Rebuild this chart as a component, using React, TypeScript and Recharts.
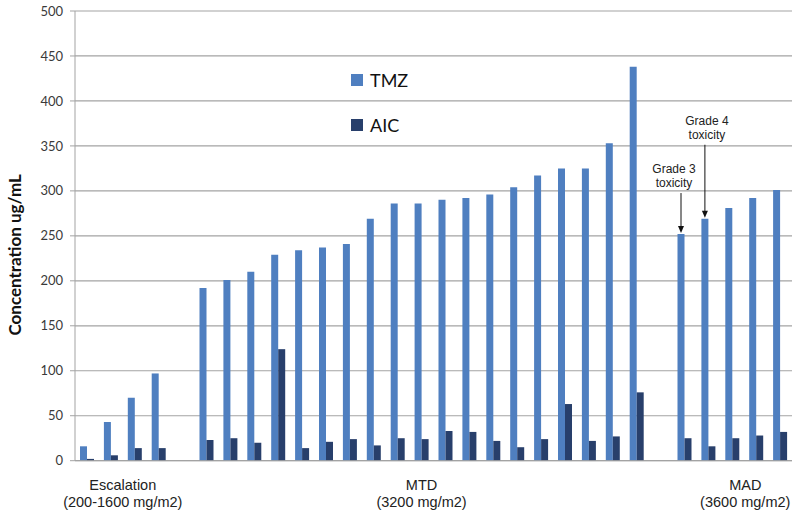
import React from 'react';
import { BarChart, Bar, XAxis, YAxis, CartesianGrid, LabelList } from 'recharts';

// values (ug/mL)
const escalationTMZ = [16, 43, 70, 97];
const escalationAIC = [2, 6, 14, 14];
const mtdTMZ = [192, 201, 210, 229, 234, 237, 241, 269, 286, 286, 290, 292, 296, 304, 317, 325, 325, 353, 438];
const mtdAIC = [23, 25, 20, 124, 14, 21, 24, 17, 25, 24, 33, 32, 22, 15, 24, 63, 22, 27, 76];
const madTMZ = [252, 269, 281, 292, 301];
const madAIC = [25, 16, 25, 28, 32];
const madNotes = ['Grade 3|toxicity', 'Grade 4|toxicity', '', '', ''];
const yTicks = [0, 50, 100, 150, 200, 250, 300, 350, 400, 450, 500];

const series = [
  { key: 'tmz', name: 'TMZ', color: '#4F7FC0' },
  { key: 'aic', name: 'AIC', color: '#283F6B' },
];

const cohorts = [
  { name: 'Escalation', dose: '(200-1600 mg/m2)', tmz: escalationTMZ, aic: escalationAIC, notes: [] as string[] },
  { name: 'MTD', dose: '(3200 mg/m2)', tmz: mtdTMZ, aic: mtdAIC, notes: [] as string[] },
  { name: 'MAD', dose: '(3600 mg/m2)', tmz: madTMZ, aic: madAIC, notes: madNotes },
];

type Row = {
  id: string;
  tmz: number | null;
  aic: number | null;
  note?: string;
  group?: string;
  dose?: string;
  even?: boolean;
};

const rows: Row[] = [];
cohorts.forEach((c, gi) => {
  if (gi > 0) rows.push({ id: `gap${gi}`, tmz: null, aic: null });
  const mid = Math.floor((c.tmz.length - 1) / 2);
  c.tmz.forEach((v, i) => {
    rows.push({
      id: `${c.name}-${i}`,
      tmz: v,
      aic: c.aic[i],
      note: c.notes[i] || undefined,
      group: i === mid ? c.name : undefined,
      dose: i === mid ? c.dose : undefined,
      even: c.tmz.length % 2 === 0,
    });
  });
});

const W = 800;
const H = 515;
const Y_AXIS_W = 75;
const RIGHT = 8;
const SLOT = (W - Y_AXIS_W - RIGHT) / rows.length;
const GRID = '#A3A3A3';
const LABEL_NUDGE: Record<string, number> = { MAD: 13 };

const GroupTick = (props: any) => {
  const { x, y, index } = props;
  const row = rows[index];
  if (!row || !row.group) return null;
  const cx = x + (row.even ? SLOT / 2 : 0) + (LABEL_NUDGE[row.group] || 0);
  return (
    <g>
      <text x={cx} y={y + 29} textAnchor="middle" fontSize={14.5} fill="#222" fontFamily="'Liberation Sans', Arial, sans-serif">
        {row.group}
      </text>
      <text x={cx} y={y + 46} textAnchor="middle" fontSize={14.5} fill="#222" fontFamily="'Liberation Sans', Arial, sans-serif">
        {row.dose}
      </text>
    </g>
  );
};

// arrow length and text shift for each note, in the order of madNotes
const NOTE_ARROW = [41, 74];
const NOTE_DX = [-7, 2];

const NoteMark = (props: any) => {
  const { value } = props;
  if (!value) return null;
  const vb = props.viewBox || props;
  const k = madNotes.indexOf(value);
  const len = NOTE_ARROW[k] ?? 40;
  const dx = NOTE_DX[k] ?? 0;
  const cx = vb.x + vb.width / 2;
  const top = vb.y;
  const start = top - len;
  const [l1, l2] = String(value).split('|');
  return (
    <g>
      <line x1={cx} y1={start} x2={cx} y2={top - 6} stroke="#111" strokeWidth={1} />
      <polygon points={`${cx - 3},${top - 8} ${cx + 3},${top - 8} ${cx},${top - 1}`} fill="#111" />
      <text x={cx + dx} y={start - 20} textAnchor="middle" fontSize={12} fill="#222" fontFamily="'Liberation Sans', Arial, sans-serif">
        {l1}
      </text>
      <text x={cx + dx} y={start - 6} textAnchor="middle" fontSize={12} fill="#222" fontFamily="'Liberation Sans', Arial, sans-serif">
        {l2}
      </text>
    </g>
  );
};

const AxisTitle = (props: any) => {
  const vb = props.viewBox || {};
  const cx = 15;
  const cy = (vb.y ?? 11) + (vb.height ?? 450) / 2 + 19;
  return (
    <text
      x={cx}
      y={cy}
      transform={`rotate(-90 ${cx} ${cy})`}
      textAnchor="middle"
      dominantBaseline="central"
      fontSize={17}
      fontWeight="bold"
      fill="#111"
      fontFamily="Lato, 'Open Sans', sans-serif"
    >
      Concentration ug/mL
    </text>
  );
};

export default function App() {
  return (
    <div style={{ position: 'absolute', left: 0, top: 0, width: W, height: H, background: '#fff' }}>
      <BarChart
        width={W}
        height={H}
        data={rows}
        margin={{ top: 11, right: RIGHT, bottom: 9.3, left: 0 }}
        barGap={0}
        barSize={7}
      >
        <CartesianGrid vertical={false} stroke={GRID} strokeWidth={1.2} />
        <XAxis
          dataKey="id"
          interval={0}
          tickLine={false}
          tickSize={0}
          tickMargin={0}
          height={45}
          axisLine={{ stroke: GRID }}
          tick={<GroupTick />}
        />
        <YAxis
          width={Y_AXIS_W}
          domain={[0, 500]}
          ticks={yTicks}
          interval={0}
          tickSize={5}
          tickMargin={7}
          axisLine={{ stroke: GRID }}
          tickLine={{ stroke: GRID }}
          tick={{ fill: '#3A3A3A', fontSize: 13, fontFamily: "Lato, 'Open Sans', sans-serif" }}
          label={<AxisTitle />}
        />
        {series.map((s) => (
          <Bar key={s.key} dataKey={s.key} name={s.name} fill={s.color} isAnimationActive={false}>
            {s.key === 'tmz' && <LabelList dataKey="note" content={<NoteMark />} />}
          </Bar>
        ))}
      </BarChart>
      <div style={{ position: 'absolute', left: 351, top: 70, fontFamily: "Lato, 'Open Sans', sans-serif" }}>
        {series.map((s, i) => (
          <div
            key={s.key}
            style={{ display: 'flex', alignItems: 'center', height: 20, marginTop: i === 0 ? 0 : 25 }}
          >
            <span style={{ display: 'inline-block', width: 12, height: 12, background: s.color, marginRight: 7 }} />
            <span style={{ fontSize: 18, color: '#111' }}>{s.name}</span>
          </div>
        ))}
      </div>
    </div>
  );
}
